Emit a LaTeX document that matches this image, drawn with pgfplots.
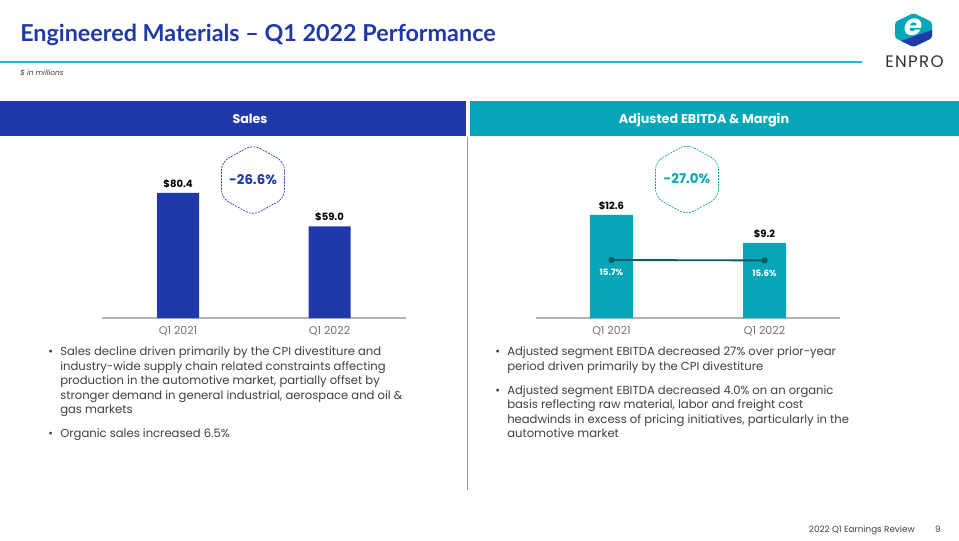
\documentclass[border=0pt]{standalone}
\usepackage{fontspec}
\setmainfont{Poppins}
\newfontfamily\titlefont{Lato}
\usepackage{pgfplots}
\pgfplotsset{compat=1.18}
\definecolor{eblue}{HTML}{2039A8}
\definecolor{eteal}{HTML}{06A6B8}
\definecolor{ecyan}{HTML}{22B8CF}
\definecolor{egray}{HTML}{404040}
\definecolor{edark}{HTML}{0D5A66}
\begin{document}
\begin{tikzpicture}[x=0.75pt,y=-0.75pt]
\useasboundingbox (0,0) rectangle (959,540);
\fill[white] (0,0) rectangle (959,540);
% title
\node[anchor=base west, inner sep=0, text=eblue, font=\titlefont\bfseries\fontsize{17.5}{19}\selectfont] at (20,41.5) {Engineered Materials – Q1 2022 Performance};
\draw[ecyan, line width=1.1pt] (0,62) -- (862,62);
\node[anchor=west, inner sep=0, text=egray, font=\itshape\fontsize{5.5}{6}\selectfont] at (20,72.5) {\$ in millions};
% logo
\begin{scope}
\path[clip, rounded corners=2pt] (913.5,13) -- (932,22) -- (932,38) -- (913.5,47) -- (895,38) -- (895,22) -- cycle;
\fill[eteal] (890,10) rectangle (940,50);
\fill[eblue] (890,50) -- (890,45) -- (940,27) -- (940,50) -- cycle;
\end{scope}
\node[text=white, font=\bfseries\itshape\fontsize{22}{22}\selectfont] at (913.5,27) {e};
\node[text=black!80, font=\fontsize{12.5}{12.5}\selectfont\addfontfeature{LetterSpace=8}] at (914.5,62) {ENPRO};
% header bars
\fill[eblue] (0,101) rectangle (466,136);
\fill[eteal] (470,101) rectangle (959,136);
\node[anchor=base, text=white, font=\bfseries\fontsize{9.5}{11}\selectfont] at (250,123) {Sales};
\node[anchor=base, text=white, font=\bfseries\fontsize{9.6}{11}\selectfont] at (704,123) {Adjusted EBITDA \& Margin};
\draw[black!40, line width=0.6pt] (467,137) -- (467,490);
\pgfplotsset{every axis/.append style={/pgf/number format/assume math mode=true}}
% left chart
\begin{axis}[at={(76.5pt,-238.5pt)}, anchor=south west, scale only axis, width=228pt, height=133.5pt,
 xmin=-0.502, xmax=1.505, ymin=0, ymax=114.47,
 axis x line*=bottom, axis y line=none, x axis line style={draw=black!30, line width=0.8pt, -},
 xtick={0,1}, xticklabels={Q1 2021,Q1 2022}, major tick length=0pt,
 xticklabel style={text=black!55, font=\fontsize{8.3}{9}\selectfont, yshift=-2.5pt},
 ybar, bar width=31.5pt,
 nodes near coords={\$\pgfmathprintnumber[fixed,fixed zerofill,precision=1,assume math mode=true]{\pgfplotspointmeta}},
 every node near coord/.append style={text=black, font=\bfseries\fontsize{7.5}{9}\selectfont},
 clip=false]
\addplot[fill=eblue, draw=none] coordinates {(0,80.4) (1,59.0)};
\end{axis}
% right chart
\begin{axis}[at={(402pt,-238.5pt)}, anchor=south west, scale only axis, width=228pt, height=133.5pt,
 xmin=-0.493, xmax=1.493, ymin=0, ymax=21.77,
 axis x line*=bottom, axis y line=none, x axis line style={draw=black!30, line width=0.8pt, -},
 xtick={0,1}, xticklabels={Q1 2021,Q1 2022}, major tick length=0pt,
 xticklabel style={text=black!55, font=\fontsize{8.3}{9}\selectfont, yshift=-2.5pt},
 ybar, bar width=32.25pt,
 nodes near coords={\$\pgfmathprintnumber[fixed,fixed zerofill,precision=1,assume math mode=true]{\pgfplotspointmeta}},
 every node near coord/.append style={text=black, font=\bfseries\fontsize{7.5}{9}\selectfont},
 clip=false]
\addplot[fill=eteal, draw=none] coordinates {(0,12.6) (1,9.2)};
\end{axis}
\begin{axis}[at={(402pt,-238.5pt)}, anchor=south west, scale only axis, width=228pt, height=133.5pt,
 xmin=-0.493, xmax=1.493, ymin=0, ymax=48.2, hide axis, clip=false,
 nodes near coords={\pgfmathprintnumber[fixed,fixed zerofill,precision=1,assume math mode=true]{\pgfplotspointmeta}\%},
 every node near coord/.append style={anchor=north, text=white, font=\bfseries\fontsize{6.5}{8}\selectfont, yshift=-3pt}]
\addplot[edark, line width=1.4pt, mark=*, mark size=1.6pt] coordinates {(0,15.7) (1,15.6)};
\end{axis}
% hexagons
\draw[eblue, line width=0.5pt, dash pattern=on 1.5pt off 0.8pt, rounded corners=6pt] (253,144.5) -- (284.5,162) -- (284.5,198) -- (253,215.5) -- (221.5,198) -- (221.5,162) -- cycle;
\node[text=eblue, font=\bfseries\fontsize{10}{12}\selectfont] at (253,179.5) {-26.6\%};
\draw[eteal, line width=0.5pt, dash pattern=on 1.5pt off 0.8pt, rounded corners=6pt] (687,144) -- (718.5,161.5) -- (718.5,197.5) -- (687,215) -- (655.5,197.5) -- (655.5,161.5) -- cycle;
\node[text=eteal, font=\bfseries\fontsize{10}{12}\selectfont] at (687,179) {-27.0\%};
% bullets
\begin{scope}[every node/.style={anchor=base west, inner sep=0, text=egray, font=\fontsize{8.7}{11}\selectfont}]
\node at (48,355.5) {•};
\node at (60,355.5) {Sales decline driven primarily by the CPI divestiture and};
\node at (60,370) {industry-wide supply chain related constraints affecting};
\node at (60,384.5) {production in the automotive market, partially offset by};
\node at (60,399) {stronger demand in general industrial, aerospace and oil \&};
\node at (60,413.5) {gas markets};
\node at (48,437) {•};
\node at (60,437) {Organic sales increased 6.5\%};
\node at (495,355.5) {•};
\node at (507,355.5) {Adjusted segment EBITDA decreased 27\% over prior-year};
\node at (507,370) {period driven primarily by the CPI divestiture};
\node at (495,394) {•};
\node at (507,394) {Adjusted segment EBITDA decreased 4.0\% on an organic};
\node at (507,408.5) {basis reflecting raw material, labor and freight cost};
\node at (507,423) {headwinds in excess of pricing initiatives, particularly in the};
\node at (507,437.5) {automotive market};
\end{scope}
% footer
\node[anchor=base east, inner sep=0, text=egray, font=\fontsize{6.6}{7}\selectfont] at (915,532) {2022 Q1 Earnings Review};
\node[anchor=base, inner sep=0, text=egray, font=\fontsize{6.6}{7}\selectfont] at (938,532) {9};
\end{tikzpicture}
\end{document}
